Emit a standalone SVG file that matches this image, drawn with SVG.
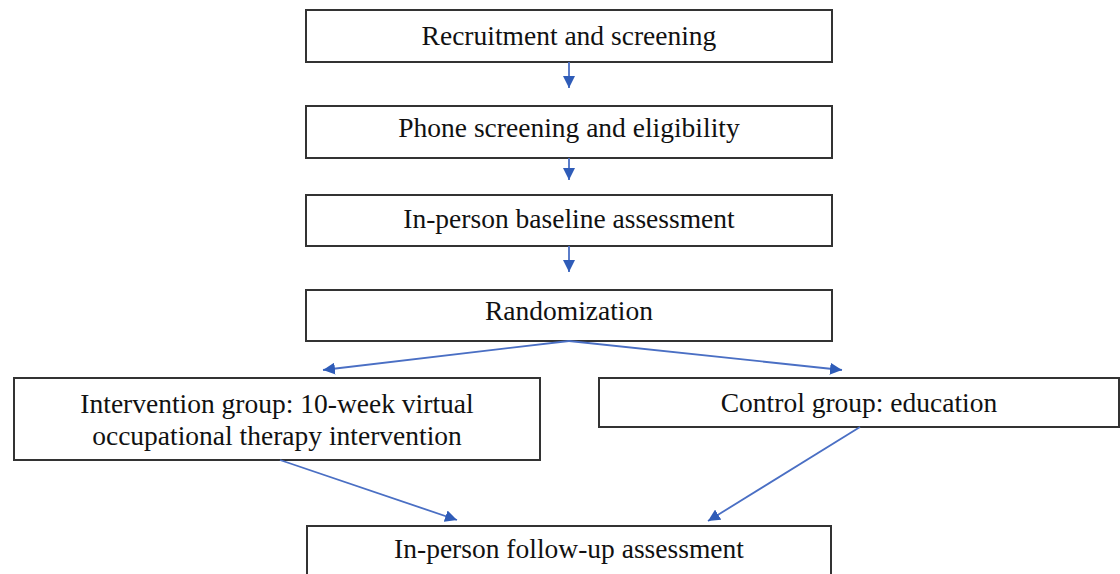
<svg xmlns="http://www.w3.org/2000/svg" width="1120" height="574" viewBox="0 0 1120 574">
<defs>
<marker id="ah" viewBox="0 0 10 10" refX="10" refY="5" markerWidth="12" markerHeight="12" markerUnits="userSpaceOnUse" orient="auto">
<path d="M0,0 L10,5 L0,10 z" fill="#2f5cb8"/>
</marker>
<style>
.box{fill:#fff;stroke:#333;stroke-width:2}
.t{font-family:"Liberation Serif","Times New Roman",serif;font-size:27.5px;fill:#111;text-anchor:middle}
.c{stroke:#4a6fc4;stroke-width:1.8;fill:none;marker-end:url(#ah)}
</style>
</defs>
<rect width="1120" height="574" fill="#fff"/>
<g id="n1"><rect class="box" x="306" y="10" width="526" height="52"/><text class="t" x="569" y="45">Recruitment and screening</text></g>
<g id="n2"><rect class="box" x="306" y="106" width="526" height="52"/><text class="t" x="569" y="137">Phone screening and eligibility</text></g>
<g id="n3"><rect class="box" x="306" y="195" width="526" height="51"/><text class="t" x="569" y="228">In-person baseline assessment</text></g>
<g id="n4"><rect class="box" x="306" y="290" width="526" height="51"/><text class="t" x="569" y="320">Randomization</text></g>
<g id="n5"><rect class="box" x="14" y="378" width="526" height="82"/><text class="t" x="277" y="413">Intervention group: 10-week virtual</text><text class="t" x="277" y="445">occupational therapy intervention</text></g>
<g id="n6"><rect class="box" x="599" y="378" width="520" height="49"/><text class="t" x="859" y="412">Control group: education</text></g>
<g id="n7"><rect class="box" x="307" y="526" width="524" height="52"/><text class="t" x="569" y="558">In-person follow-up assessment</text></g>
<g id="connectors">
<line class="c" x1="569" y1="62" x2="569" y2="88"/>
<line class="c" x1="569" y1="158" x2="569" y2="180"/>
<line class="c" x1="569" y1="246" x2="569" y2="272"/>
<line class="c" x1="569" y1="341" x2="323" y2="370"/>
<line class="c" x1="569" y1="341" x2="842" y2="370"/>
<line class="c" x1="280" y1="460" x2="457" y2="520"/>
<line class="c" x1="860" y1="427" x2="708" y2="521"/>
</g>
</svg>
